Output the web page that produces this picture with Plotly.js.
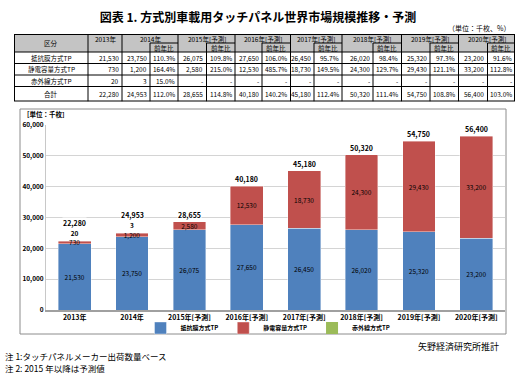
<!DOCTYPE html>
<html>
<head>
<meta charset="utf-8">
<script src="https://cdn.plot.ly/plotly-3.0.1.min.js"></script>
<style>
html,body{margin:0;padding:0;background:#fff;}
#chart{width:531px;height:383px;}
</style>
</head>
<body>
<div id="chart"></div>
<script>
// ---------- data ----------
const categories = ['2013年','2014年','2015年[予測]','2016年[予測]','2017年[予測]','2018年[予測]','2019年[予測]','2020年[予測]'];
const seriesNames = ['抵抗膜方式TP','静電容量方式TP','赤外線方式TP'];
const resistive = [21530, 23750, 26075, 27650, 26450, 26020, 25320, 23200];
const capacitive = [730, 1200, 2580, 12530, 18730, 24300, 29430, 33200];
const infrared = [20, 3, null, null, null, null, null, null];
const totals = [22280, 24953, 28655, 40180, 45180, 50320, 54750, 56400];
const resistiveYoY = [null, 110.3, 109.8, 106.0, 95.7, 98.4, 97.3, 91.6];
const capacitiveYoY = [null, 164.4, 215.0, 485.7, 149.5, 129.7, 121.1, 112.8];
const infraredYoY = [null, 15.0, null, null, null, null, null, null];
const totalYoY = [null, 112.0, 114.8, 140.2, 112.4, 111.4, 108.8, 103.0];
const totalLabel = '合計';
const headerLabel = '区分';
const ratioLabel = '前年比';
const titleText = '図表 1. 方式別車載用タッチパネル世界市場規模推移・予測';
const tableUnit = '（単位：千枚、%）';
const chartUnit = '［単位：千枚］';
const sourceText = '矢野経済研究所推計';
const note1 = '注 1:タッチパネルメーカー出荷数量ベース';
const note2 = '注 2: 2015 年以降は予測値';

// ---------- styles ----------
const FONT = '"Noto Sans CJK JP", "Noto Sans", sans-serif';
const W = 531, H = 383;
const colors = ['#4f81bd', '#c0504d', '#9bbb59'];
// table geometry (pixel layout of the table grid)
const colX = [14, 88, 122, 150, 178, 206.5, 235, 262, 290.5, 314, 342, 373, 401.5, 430, 458.5, 487.5, 515];
const rowY = [34, 43, 52, 63.5, 75, 86.5, 101.5];

const fmtN = v => (v === null || v === undefined) ? '-' : v.toLocaleString('en-US');
const fmtP = v => (v === null || v === undefined) ? '-' : v.toFixed(1) + '%';

// ---------- bar traces ----------
const segFont = {family: FONT, size: 6.5, color: '#000'};
const traces = [
  {
    type: 'bar', name: seriesNames[0], x: categories, y: resistive,
    marker: {color: colors[0], line: {color: '#ffffff', width: 0.4}},
    texttemplate: '%{y:,}', textposition: 'inside', insidetextanchor: 'middle',
    constraintext: 'none', textangle: 0, textfont: segFont,
    xaxis: 'x', yaxis: 'y', hoverinfo: 'skip'
  },
  {
    type: 'bar', name: seriesNames[1], x: categories, y: capacitive,
    marker: {color: colors[1], line: {color: '#ffffff', width: 0.4}},
    texttemplate: '%{y:,}', textposition: 'inside', insidetextanchor: 'middle',
    constraintext: 'none', textangle: 0, textfont: segFont,
    xaxis: 'x', yaxis: 'y', hoverinfo: 'skip'
  },
  {
    type: 'bar', name: seriesNames[2], x: categories, y: infrared,
    marker: {color: colors[2]},
    text: infrared.map(v => v === null ? '' : fmtN(v)), textposition: 'outside',
    constraintext: 'none', textangle: 0, cliponaxis: false,
    textfont: {family: FONT, size: 6.5, color: '#000', weight: 'bold'},
    xaxis: 'x', yaxis: 'y', hoverinfo: 'skip'
  }
];

// ---------- annotations ----------
const ann = [];
// totals above bars
categories.forEach((c, i) => {
  ann.push({
    x: c, y: totals[i], xref: 'x', yref: 'y', text: fmtN(totals[i]),
    showarrow: false, yanchor: 'middle', yshift: infrared[i] ? 18 : 7,
    bgcolor: '#ffffff', borderpad: 0,
    font: {family: FONT, size: 7, color: '#000', weight: 'bold'}
  });
});

// table text
const tFont = {family: FONT, size: 6.5, color: '#000'};
const midY = r => (rowY[r] + rowY[r + 1]) / 2;
ann.push({x: (colX[0] + colX[1]) / 2, y: (rowY[0] + rowY[2]) / 2, xref: 'x2', yref: 'y2',
  text: headerLabel, showarrow: false, font: tFont});
categories.forEach((c, i) => {
  const x0 = i === 0 ? colX[1] : colX[2 * i];
  const x1 = i === 0 ? colX[2] : colX[2 * i + 2];
  ann.push({x: (x0 + x1) / 2, y: midY(0), xref: 'x2', yref: 'y2', text: c,
    showarrow: false, font: tFont});
  if (i > 0) {
    ann.push({x: (colX[2 * i + 1] + colX[2 * i + 2]) / 2, y: midY(1), xref: 'x2', yref: 'y2',
      text: ratioLabel, showarrow: false, font: tFont});
  }
});
const bodyRows = [
  [seriesNames[0], resistive, resistiveYoY],
  [seriesNames[1], capacitive, capacitiveYoY],
  [seriesNames[2], infrared, infraredYoY],
  [totalLabel, totals, totalYoY]
];
bodyRows.forEach((row, r) => {
  const yy = midY(r + 2);
  ann.push({x: (colX[0] + colX[1]) / 2, y: yy, xref: 'x2', yref: 'y2', text: row[0],
    showarrow: false, font: tFont});
  row[1].forEach((v, i) => {
    const xr = i === 0 ? colX[2] : colX[2 * i + 1];
    ann.push({x: xr, y: yy, xref: 'x2', yref: 'y2', text: fmtN(v), xanchor: 'right',
      xshift: -1.5, showarrow: false, font: tFont});
    if (i > 0) {
      ann.push({x: colX[2 * i + 2], y: yy, xref: 'x2', yref: 'y2', text: fmtP(row[2][i]),
        xanchor: 'right', xshift: -1.5, showarrow: false, font: tFont});
    }
  });
});

// free texts
ann.push({x: 512 / W, y: 1 - 28 / H, xref: 'paper', yref: 'paper', text: tableUnit,
  xanchor: 'right', yanchor: 'middle', showarrow: false,
  font: {family: FONT, size: 7, color: '#000'}});
ann.push({x: 21 / W, y: 1 - 113.5 / H, xref: 'paper', yref: 'paper', text: chartUnit,
  xanchor: 'left', yanchor: 'middle', showarrow: false,
  font: {family: FONT, size: 6.5, color: '#000', weight: 'bold'}});
ann.push({x: 501 / W, y: 1 - 346 / H, xref: 'paper', yref: 'paper', text: sourceText,
  xanchor: 'right', yanchor: 'middle', showarrow: false,
  font: {family: FONT, size: 9, color: '#000'}});
ann.push({x: 3 / W, y: 1 - 356 / H, xref: 'paper', yref: 'paper', text: note1,
  xanchor: 'left', yanchor: 'middle', showarrow: false,
  font: {family: FONT, size: 8.5, color: '#000'}});
ann.push({x: 3 / W, y: 1 - 368 / H, xref: 'paper', yref: 'paper', text: note2,
  xanchor: 'left', yanchor: 'middle', showarrow: false,
  font: {family: FONT, size: 8.5, color: '#000'}});

// ---------- shapes ----------
const shapes = [];
const L = (x0, y0, x1, y1, w) => shapes.push({type: 'line', xref: 'x2', yref: 'y2',
  x0, y0, x1, y1, line: {color: '#000', width: w || 1}});
// header fill
shapes.push({type: 'rect', xref: 'x2', yref: 'y2', x0: colX[0], x1: colX[16], y0: rowY[0], y1: rowY[2],
  fillcolor: '#c4c4c4', line: {width: 0}, layer: 'below'});
// body horizontal lines
for (let r = 2; r < rowY.length - 1; r++) L(colX[0], rowY[r], colX[16], rowY[r], 1);
// body vertical lines
for (let c = 1; c < colX.length - 1; c++) L(colX[c], rowY[2], colX[c], rowY[6], 1);
// header group lines
L(colX[1], rowY[0], colX[1], rowY[2], 1);
for (let i = 1; i < 8; i++) {
  L(colX[2 * i], rowY[0], colX[2 * i], rowY[2], 1);
  L(colX[2 * i + 1], rowY[1], colX[2 * i + 1], rowY[2], 1);
  L(colX[2 * i + 1], rowY[1], colX[2 * i + 2], rowY[1], 1);
}
// outer border
shapes.push({type: 'rect', xref: 'x2', yref: 'y2', x0: colX[0], x1: colX[16], y0: rowY[0], y1: rowY[6],
  line: {color: '#000', width: 2}});
// chart frame
shapes.push({type: 'rect', xref: 'paper', yref: 'paper', x0: 20 / W, x1: 506 / W,
  y0: 1 - 334 / H, y1: 1 - 109 / H, line: {color: '#8c8c8c', width: 1}, layer: 'below'});

// ---------- layout ----------
const layout = {
  width: W, height: H,
  margin: {l: 0, r: 0, t: 0, b: 0},
  paper_bgcolor: '#ffffff', plot_bgcolor: '#ffffff',
  font: {family: FONT, color: '#000'},
  title: {text: titleText, x: 258 / W, xref: 'container', y: 1 - 18 / H, yref: 'container',
    xanchor: 'center', yanchor: 'middle',
    font: {family: FONT, size: 12, color: '#000', weight: 'bold'}},
  barmode: 'stack', bargap: 0.43,
  showlegend: true,
  legend: {orientation: 'h', traceorder: 'normal', x: 268 / W, xanchor: 'center', y: 1 - 328 / H, yanchor: 'middle',
    font: {family: FONT, size: 6, color: '#000', weight: 'bold'}, itemwidth: 30,
    bgcolor: 'rgba(0,0,0,0)', tracegroupgap: 0},
  xaxis: {domain: [46 / W, 505 / W], type: 'category', showline: true, linecolor: '#a0a0a0',
    linewidth: 2, ticks: '', showgrid: false, fixedrange: true,
    tickfont: {family: FONT, size: 7, color: '#000', weight: 'bold'}},
  yaxis: {domain: [1 - 310 / H, 1 - 125 / H], range: [0, 60000], dtick: 10000, tickformat: ',d',
    showgrid: true, gridcolor: '#d4d4d4', gridwidth: 1, zeroline: false,
    showline: true, linecolor: '#c8c8c8', linewidth: 1, ticks: '', fixedrange: true,
    tickfont: {family: FONT, size: 6.5, color: '#000', weight: 'bold'}},
  xaxis2: {domain: [colX[0] / W, colX[16] / W], range: [colX[0], colX[16]], visible: false,
    fixedrange: true, anchor: 'y2'},
  yaxis2: {domain: [1 - rowY[6] / H, 1 - rowY[0] / H], range: [rowY[6], rowY[0]], visible: false,
    fixedrange: true, anchor: 'x2'},
  annotations: ann,
  shapes: shapes
};

Plotly.newPlot('chart', traces, layout, {staticPlot: true, displayModeBar: false});
</script>
</body>
</html>
